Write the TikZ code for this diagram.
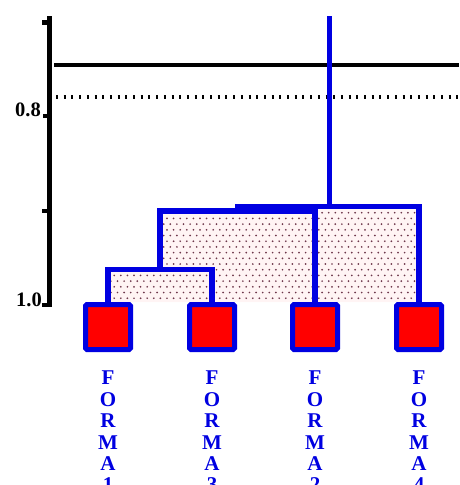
\documentclass[tikz,border=0pt]{standalone}
\usepackage{fontspec}
\setmainfont{Liberation Serif}
\definecolor{dendblue}{RGB}{0,0,225}
\definecolor{leafred}{RGB}{255,0,0}
\definecolor{dotcol}{RGB}{110,55,75}
\definecolor{shadebg}{RGB}{255,244,244}
\tikzset{
  branch/.style={draw=dendblue, line width=5.5pt, line join=miter},
  leaf/.style={draw=dendblue, fill=leafred, line width=5pt, minimum size=45pt,
               inner sep=0pt, rounded corners=1.5pt},
  leaflabel/.style={text=dendblue, font=\fontsize{21}{21.4}\selectfont\bfseries,
               align=center, inner sep=0pt, anchor=north},
  axislabel/.style={font=\fontsize{20.5}{22}\selectfont\bfseries, inner sep=0pt, anchor=base east},
  tickmark/.style={fill=black}
}
\begin{document}
\begin{tikzpicture}[x=1pt,y=-1pt]
\useasboundingbox (0,0) rectangle (459,485);

% stippled area under the merge bars
\begin{scope}
  \clip (107,269.5) rectangle (211,302) (160,208) rectangle (420,302);
  \fill[shadebg] (100,200) rectangle (425,305);
  \foreach \r in {0,...,17} {
    \foreach \c in {0,...,49} {
      \fill[dotcol] ({101+\c*6.6+mod(\r,2)*3.3},{207+\r*5.7}) circle (0.95);
    }
  }
\end{scope}

% similarity axis
\draw[line width=5pt] (49,16) -- (49,307);
\fill[tickmark] (42,20) rectangle (47,25);
\fill[tickmark] (43,114) rectangle (47,118);
\fill[tickmark] (42,209) rectangle (47,213);
\fill[tickmark] (42,303) rectangle (47,307);
\node[axislabel] (l08) at (41,116) {0.8};
\node[axislabel] (l10) at (42,306) {1.0};

% cut levels
\draw[line width=4.5pt] (54,65) -- (459,65);
\draw[line width=4.5pt, dash pattern=on 2pt off 5.7pt] (56,97) -- (459,97);

% leaves
\node[leaf] (f1) at (108,327) {};
\node[leaf] (f3) at (212,327) {};
\node[leaf] (f2) at (315,327) {};
\node[leaf] (f4) at (419,327) {};

\node[leaflabel] (t1) at (108,371) {F\\O\\R\\M\\A\\1};
\node[leaflabel] (t3) at (212,371) {F\\O\\R\\M\\A\\3};
\node[leaflabel] (t2) at (315,371) {F\\O\\R\\M\\A\\2};
\node[leaflabel] (t4) at (419,371) {F\\O\\R\\M\\A\\4};

% merge points
\coordinate (j13) at (160,269.5);
\coordinate (j132) at (238,211);
\coordinate (jall) at (329.5,206.5);
\coordinate (root) at (329.5,16);

% dendrogram branches
\draw[branch] (f1.north) |- (j13) -| (f3.north);
\draw[branch] (j13) |- (j132) -| (f2.north);
\draw[branch] (j132) |- (jall) -| (f4.north);
\draw[branch] (jall) -- (root);
\end{tikzpicture}
\end{document}
